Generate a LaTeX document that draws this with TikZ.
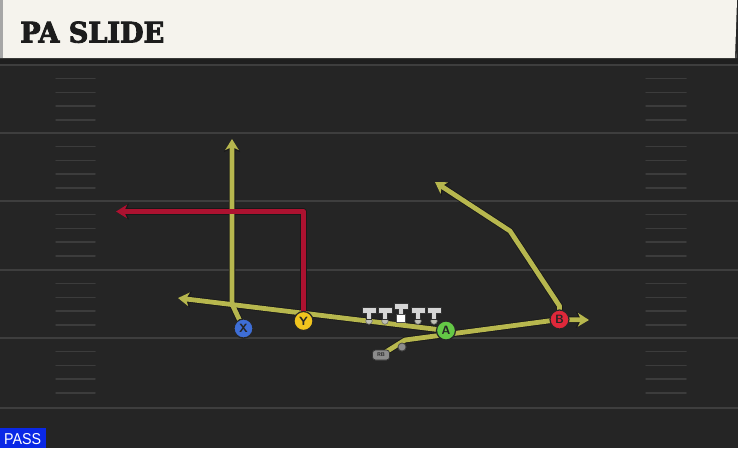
\documentclass[tikz,border=0pt]{standalone}
\usepackage{fontspec}
\setmainfont{DejaVu Sans}
\newfontfamily\titlefont{DejaVu Serif Condensed}[BoldFeatures={FakeBold=3}]
\newfontfamily\passfont{Liberation Sans}
\usetikzlibrary{arrows.meta}
\definecolor{fieldbg}{RGB}{37,37,37}
\definecolor{yardcol}{RGB}{62,62,62}
\definecolor{hashcol}{RGB}{60,60,60}
\definecolor{cream}{RGB}{245,243,237}
\definecolor{titlecol}{RGB}{28,28,28}
\definecolor{routecol}{RGB}{183,183,78}
\definecolor{redroute}{RGB}{172,18,48}
\definecolor{xblue}{RGB}{62,110,214}
\definecolor{yyellow}{RGB}{240,196,30}
\definecolor{agreen}{RGB}{100,200,70}
\definecolor{bred}{RGB}{222,40,58}
\definecolor{passblue}{RGB}{10,40,230}
\definecolor{lmcol}{RGB}{214,214,214}
\definecolor{dotcol}{RGB}{190,190,180}
\tikzset{
  outline/.style={draw=black!90, line width=6.5pt, line join=round, -{Stealth[length=13pt,width=16pt,inset=3.5pt]}},
  yroute/.style={draw=routecol, line width=4.8pt, line join=round, -{Stealth[length=11pt,width=13.5pt,inset=3pt]}},
  rroute/.style={draw=redroute, line width=4.8pt, line join=round, -{Stealth[length=11pt,width=13.5pt,inset=3pt]}},
  player/.style={circle, minimum size=19pt, inner sep=0pt, draw=black!85, line width=1.2pt,
     font=\sffamily\bfseries\fontsize{12}{12}\selectfont, text=black!85},
  rbbox/.style={rounded corners=3pt, fill=black!45, draw=black!80, line width=0.7pt, minimum width=17pt, minimum height=10pt, inner sep=0pt,
     font=\sffamily\bfseries\fontsize{5.5}{5.5}\selectfont, text=black!85},
  qbdot/.style={circle, fill=black!45, draw=black!75, line width=0.7pt, minimum size=8pt, inner sep=0pt},
  lineman/.style={fill=lmcol, draw=black!80, line width=0.9pt},
}
\begin{document}
\begin{tikzpicture}[x=1pt,y=-1pt]
\useasboundingbox (0,0) rectangle (738,448);
% field
\fill[fieldbg] (0,0) rectangle (738,448);
\fill[black!88] (0,58) rectangle (738,64);
\draw[yardcol, line width=1.5pt] (0,65) -- (738,65);
\foreach \yy in {133,201,270,338,408}
  \draw[yardcol, line width=2pt] (0,\yy) -- (738,\yy);
\foreach \yy in {65,133,201,270,338}
  \foreach \k in {1,2,3,4} {
    \draw[hashcol, line width=1.5pt, line cap=round] (56,\yy+\k*13.7) -- (95,\yy+\k*13.7);
    \draw[hashcol, line width=1.5pt, line cap=round] (646,\yy+\k*13.7) -- (686,\yy+\k*13.7);
  }
% header
\fill[cream] (0,0) -- (737,0) -- (735,58) -- (0,58) -- cycle;
\fill[black!35] (0,0) rectangle (3,58);
\fill[black!70] (735,58) -- (737,52) -- (737,58) -- cycle;
\node[anchor=base west, inner sep=0pt, text=titlecol] (title) at (20,42.5)
  {\resizebox{144pt}{21pt}{\titlefont\bfseries PA SLIDE}};
% pass label
\fill[passblue] (0,428) rectangle (46,448);
\node[anchor=base west, inner sep=0pt, text=white] (pass) at (4,444)
  {\resizebox{37pt}{11pt}{\passfont PASS}};
% players
\node[player, fill=xblue] (X) at (243.5,328.5) {X};
\node[player, fill=yyellow] (Y) at (303.5,321) {Y};
\node[player, fill=agreen] (A) at (446,330.5) {A};
\node[player, fill=bred] (B) at (559.5,319.5) {B};
\node[rbbox] (RB) at (381,355) {RB};
\node[qbdot] (qb) at (402,347) {};
% route coordinates
\coordinate (xb) at (232,304);
\coordinate (xend) at (232,139);
\coordinate (aend) at (178,298);
\coordinate (yend) at (116,211.5);
\coordinate (rb1) at (405,340);
\coordinate (rbend) at (589,320);
\coordinate (b1) at (559.5,306);
\coordinate (b2) at (510,231);
\coordinate (bend) at (435,182);
% outlines
\draw[outline] (X.center) -- (xb) -- (xend);
\draw[outline] (A.center) -- (aend);
\draw[outline] (RB.center) -- (rb1) -- (B.center) -- (rbend);
\draw[outline] (B.center) -- (b1) -- (b2) -- (bend);
\draw[outline] (Y.center) |- (yend);
% coloured routes
\draw[yroute] (X.center) -- (xb) -- (xend);
\draw[yroute] (A.center) -- (aend);
\draw[yroute] (RB.center) -- (rb1) -- (B.center) -- (rbend);
\draw[yroute] (B.center) -- (b1) -- (b2) -- (bend);
\draw[rroute] (Y.center) |- (yend);
% redraw players on top
\node[player, fill=xblue] at (X) {X};
\node[player, fill=yyellow] at (Y) {Y};
\node[player, fill=agreen] at (A) {A};
\node[player, fill=bred] at (B) {B};
\node[rbbox] at (RB) {RB};
\node[qbdot] at (qb) {};
% linemen
\foreach \lx in {369,385,418,434} {
  \fill[dotcol, draw=black!60, line width=0.5pt] (\lx,321) circle (3.3pt);
  \filldraw[lineman] (\lx-7,307) -- (\lx+7,307) -- (\lx+7,313) -- (\lx+2.5,313) -- (\lx+2.5,319) -- (\lx-2.5,319) -- (\lx-2.5,313) -- (\lx-7,313) -- cycle;
}
\filldraw[lineman] (401-7,303.5) -- (401+7,303.5) -- (401+7,309.5) -- (401+2.5,309.5) -- (401+2.5,315) -- (401-2.5,315) -- (401-2.5,309.5) -- (401-7,309.5) -- cycle;
\filldraw[fill=white, draw=black!70, line width=0.7pt] (396.5,314) rectangle (405.5,322.5);
\end{tikzpicture}
\end{document}
